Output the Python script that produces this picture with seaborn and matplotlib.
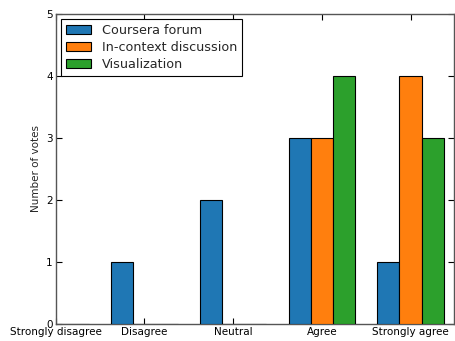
import matplotlib
matplotlib.use("Agg")
import matplotlib.pyplot as plt
import seaborn as sns
import pandas as pd

categories = ["Strongly disagree", "Disagree", "Neutral", "Agree", "Strongly agree"]
series_names = ["Coursera forum", "In-context discussion", "Visualization"]
coursera = [0, 1, 2, 3, 1]
in_context = [0, 0, 0, 3, 4]
visualization = [0, 0, 0, 4, 3]
colors = ["#1f77b4", "#ff7f0e", "#2ca02c"]

rows = []
for name, vals in zip(series_names, [coursera, in_context, visualization]):
    for c, v in zip(categories, vals):
        rows.append({"category": c, "series": name, "votes": v})
df = pd.DataFrame(rows)

sns.set_style("white")
plt.rcParams["font.family"] = ["DejaVu Sans"]

fig = plt.figure(figsize=(4.55, 3.41), dpi=100)
ax = fig.add_axes([0.122, 0.05, 0.876, 0.909])

sns.barplot(data=df, x="category", y="votes", hue="series", order=categories,
            hue_order=series_names, palette=colors, width=0.75, dodge=True,
            edgecolor="black", linewidth=0.8, saturation=1, ax=ax, errorbar=None)
for p in ax.patches:
    p.set_zorder(3)

ax.set_xlim(0, 4.49)
ax.set_ylim(0, 5)
ax.set_yticks([0, 1, 2, 3, 4, 5])
ax.set_xlabel("")
ax.set_ylabel("Number of votes", fontsize=7.5)
ax.tick_params(axis="both", direction="in", length=4, width=0.8, labelsize=7.5,
               top=True, right=True, bottom=True, left=True, pad=2, colors="black")
for s in ax.spines.values():
    s.set_visible(True)
    s.set_color("#555555")
    s.set_linewidth(1.0)

leg = ax.legend(loc="upper left", fontsize=9.2, frameon=True, fancybox=False,
                edgecolor="black", framealpha=1, borderaxespad=0.4,
                handlelength=2.0, handleheight=0.7, labelspacing=0.3, borderpad=0.4)
leg.get_frame().set_linewidth(0.8)
leg.set_zorder(5)

fig.savefig("out.png", dpi=100)
